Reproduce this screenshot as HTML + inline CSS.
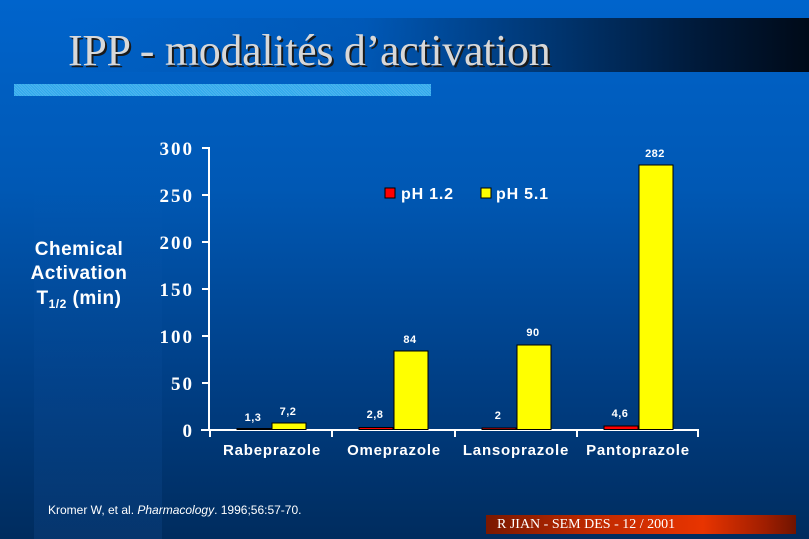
<!DOCTYPE html>
<html><head><meta charset="utf-8"><style>
html,body{margin:0;padding:0}
body{width:809px;height:539px;position:relative;overflow:hidden;background:linear-gradient(180deg,#0064cc 0%,#0058b4 35%,#003f86 70%,#002c5e 100%);font-family:"Liberation Sans",sans-serif;color:#fff}
.abs{position:absolute}
</style></head><body>
<div class="abs" style="left:34px;top:160px;width:128px;height:379px;background:linear-gradient(180deg,rgba(255,255,255,0) 0%,rgba(40,110,200,0.08) 60%,rgba(40,110,200,0.14) 100%)"></div>
<div class="abs" style="left:66px;top:18px;width:743px;height:54px;background:linear-gradient(90deg,rgba(0,60,140,0) 0%,rgba(0,70,150,0.35) 40%,#003a7a 62%,#001a3a 85%,#000a18 100%)"></div>
<div class="abs" style="left:68px;top:25px;font-family:'Liberation Serif',serif;font-size:44px;letter-spacing:-0.3px;color:#d8d8d8;text-shadow:2px 2px 0 #1a1a1a;white-space:nowrap">IPP - modalités d’activation</div>
<div class="abs" style="left:14px;top:84px;width:417px;height:12px;background:#2ea8ec;background-image:repeating-linear-gradient(45deg,rgba(255,255,255,0.15) 0 1px,transparent 1px 2px)"></div>

<svg class="abs" style="left:0;top:0" width="809" height="539">
<g fill="none" stroke="#fff" stroke-width="2">
<line x1="209" y1="147" x2="209" y2="431"/>
<line x1="201" y1="430" x2="699" y2="430"/>
<line x1="202" y1="148" x2="209" y2="148"/><line x1="202" y1="195" x2="209" y2="195"/><line x1="202" y1="242" x2="209" y2="242"/><line x1="202" y1="289" x2="209" y2="289"/><line x1="202" y1="336" x2="209" y2="336"/><line x1="202" y1="383" x2="209" y2="383"/>
<line x1="210" y1="430" x2="210" y2="437"/><line x1="332" y1="430" x2="332" y2="437"/><line x1="455" y1="430" x2="455" y2="437"/><line x1="577" y1="430" x2="577" y2="437"/><line x1="698" y1="430" x2="698" y2="437"/>
</g>
<g stroke="#000" stroke-width="1">
<rect x="272" y="423" width="34" height="6.5" fill="#ffff00"/>
<rect x="237" y="428.5" width="34" height="1" fill="#ff0000"/>
<rect x="359" y="427.5" width="34" height="2" fill="#ff0000"/>
<rect x="394" y="351" width="34" height="78.5" fill="#ffff00"/>
<rect x="482" y="428" width="34" height="1.5" fill="#ff0000"/>
<rect x="517" y="345" width="34" height="84.5" fill="#ffff00"/>
<rect x="604" y="426" width="34" height="3.5" fill="#ff0000"/>
<rect x="639" y="165" width="34" height="264.5" fill="#ffff00"/>
<rect x="385" y="188" width="10" height="10" fill="#ff0000"/>
<rect x="481" y="188" width="10" height="10" fill="#ffff00"/>
</g>
<g font-family="Liberation Serif,serif" font-weight="bold" font-size="19" fill="#fff" text-anchor="end" letter-spacing="2">
<text x="194" y="155">300</text><text x="194" y="202">250</text><text x="194" y="249">200</text><text x="194" y="296">150</text><text x="194" y="343">100</text><text x="194" y="390">50</text><text x="194" y="437">0</text>
</g>
<g font-family="Liberation Sans,sans-serif" font-weight="bold" font-size="11" fill="#fff" text-anchor="middle" letter-spacing="0.5">
<text x="253" y="421">1,3</text><text x="288" y="415">7,2</text>
<text x="375" y="418">2,8</text><text x="410" y="343">84</text>
<text x="498" y="419">2</text><text x="533" y="336">90</text>
<text x="620" y="417">4,6</text><text x="655" y="157">282</text>
</g>
<g font-family="Liberation Sans,sans-serif" font-weight="bold" font-size="15" fill="#fff" text-anchor="middle" letter-spacing="0.8">
<text x="272" y="455">Rabeprazole</text><text x="394" y="455">Omeprazole</text><text x="516" y="455">Lansoprazole</text><text x="638" y="455">Pantoprazole</text>
</g>
<g font-family="Liberation Sans,sans-serif" font-weight="bold" font-size="16" fill="#fff" letter-spacing="0.8">
<text x="401" y="199">pH 1.2</text><text x="496" y="199">pH 5.1</text>
</g>
<g font-family="Liberation Sans,sans-serif" font-weight="bold" font-size="19" fill="#fff" text-anchor="middle" letter-spacing="0.5">
<text x="79" y="255">Chemical</text><text x="79" y="279">Activation</text>
<text x="79" y="304">T<tspan font-size="12" dy="4">1/2</tspan><tspan dy="-4"> (min)</tspan></text>
</g>
<text x="48" y="514" font-family="Liberation Sans,sans-serif" font-size="12" fill="#fff">Kromer W, et al. <tspan font-style="italic">Pharmacology</tspan>. 1996;56:57-70.</text>
</svg>
<div class="abs" style="left:486px;top:515px;width:310px;height:19px;background:linear-gradient(90deg,#7a1800 0%,#c02a00 35%,#e83400 70%,#a01e00 90%,#701400 100%)"></div>
<div class="abs" style="left:497px;top:515px;font-family:'Liberation Serif',serif;font-size:14px;color:#fff;line-height:19px;white-space:nowrap">R JIAN - SEM DES - 12 / 2001</div>
</body></html>
